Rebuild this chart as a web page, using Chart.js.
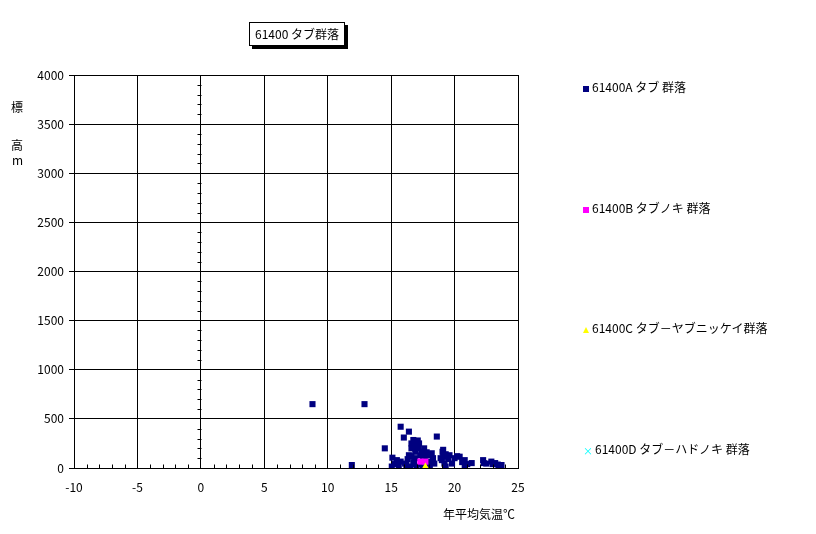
<!DOCTYPE html>
<html><head><meta charset="utf-8">
<script src="https://cdn.jsdelivr.net/npm/chart.js@4.4.0/dist/chart.umd.min.js"></script>
<style>
html,body{margin:0;padding:0;background:#fff;}
#wrap{position:relative;width:816px;height:534px;font-family:'Noto Sans CJK JP',sans-serif;font-size:12px;color:#000;}
canvas{position:absolute;left:0;top:0;}
.abs{position:absolute;white-space:nowrap;line-height:14px;}
#title{left:249px;top:22px;width:94px;height:22px;border:1px solid #000;box-shadow:3px 3px 0 #000;background:#fff;text-align:center;line-height:22px;}
.mk{display:inline-block;vertical-align:middle;margin-right:3px;}
</style></head>
<body><div id="wrap">
<canvas id="c" width="816" height="534"></canvas>
<div id="title" class="abs">61400 タブ群落</div>
<div class="abs" style="left:11px;top:100px;">標</div>
<div class="abs" style="left:11px;top:138px;">高</div>
<div class="abs" style="left:12px;top:153px;">m</div>
<div class="abs" style="left:443px;top:507px;">年平均気温℃</div>
<div id="legend"></div>
</div>
<script>
const xMin = -10, xMax = 25, xStep = 5;
const yMin = 0, yMax = 4000, yStep = 500;
const seriesNames = ["61400A タブ 群落", "61400B タブノキ 群落", "61400C タブ－ヤブニッケイ群落", "61400D タブ－ハドノキ 群落"];
const seriesA_x = [8.8, 12.9, 11.9, 14.5, 15.75, 16.4, 16.0, 16.75, 16.9, 17.15, 17.4, 16.9, 17.65, 16.9, 17.2, 17.0, 18.6, 15.1, 15.45, 15.75, 16.1, 15.05, 15.6, 16.5, 17.0, 16.2, 16.75, 18.05, 18.05, 18.0, 19.05, 19.1, 19.1, 19.2, 19.6, 19.8, 20.4, 20.8, 20.8, 21.35, 22.25, 22.5, 22.9, 23.2, 23.7, 23.5, 19.3, 18.9, 17.5, 16.6,
  16.4, 16.6, 17.3, 17.5, 17.9, 16.3, 15.3, 18.3, 17.8, 16.8, 17.4, 19.0, 19.5, 20.0, 20.6, 21.0, 22.3, 23.0, 23.4, 18.4, 17.1, 16.6, 17.6, 18.2, 19.3, 20.2];
const seriesA_y = [650, 650, 30, 200, 420, 370, 310, 285, 235, 200, 165, 165, 115, 100, 250, 200, 320, 105, 80, 65, 45, 15, 15, 15, 15, 30, 60, 65, 15, 130, 165, 185, 115, 45, 130, 45, 115, 80, 30, 50, 80, 45, 65, 50, 30, 20, 15, 100, 20, 120,
  130, 200, 130, 90, 40, 90, 40, 100, 160, 40, 40, 80, 90, 100, 60, 40, 50, 40, 35, 45, 280, 250, 200, 150, 140, 120];
const seriesB_x = [17.3, 17.7];
const seriesB_y = [65, 65];
const seriesC_x = [17.7];
const seriesC_y = [15];
const seriesD_x = [];
const seriesD_y = [];
const colors = ["#000080", "#FF00FF", "#FFFF00", "#00FFFF"];
const shapes = ["rect", "rect", "triangle", "crossRot"];

function pts(xs, ys){ return xs.map((x,i)=>({x:x, y:ys[i]})); }
const allX = [seriesA_x, seriesB_x, seriesC_x, seriesD_x];
const allY = [seriesA_y, seriesB_y, seriesC_y, seriesD_y];

const minorTicks = {
  id:'minorTicks',
  afterDraw(chart){
    const ctx = chart.ctx, xs = chart.scales.x, ys = chart.scales.y;
    ctx.save(); ctx.strokeStyle = '#000'; ctx.lineWidth = 1;
    const yb = Math.round(ys.getPixelForValue(0)) + 0.5;
    for (let v = xMin + 1; v < xMax; v++) {
      if (v % xStep === 0) continue;
      const px = Math.round(xs.getPixelForValue(v)) + 0.5;
      ctx.beginPath(); ctx.moveTo(px, yb); ctx.lineTo(px, yb - 4); ctx.stroke();
    }
    const x0 = Math.round(xs.getPixelForValue(0)) + 0.5;
    for (let v = yMin + 100; v < yMax; v += 100) {
      if (v % yStep === 0) continue;
      const py = Math.round(ys.getPixelForValue(v)) + 0.5;
      ctx.beginPath(); ctx.moveTo(x0, py); ctx.lineTo(x0 - 4, py); ctx.stroke();
    }
    ctx.restore();
  }
};

new Chart(document.getElementById('c'), {
  type: 'scatter',
  data: {
    datasets: seriesNames.map((n,i)=>({
      label: n,
      data: pts(allX[i], allY[i]),
      order: 4 - i,
      pointStyle: shapes[i],
      pointRadius: i === 2 ? 4 : 4.3,
      backgroundColor: colors[i],
      borderColor: colors[i],
      borderWidth: i === 3 ? 1 : 0,
      pointHoverRadius: 4.3
    }))
  },
  options: {
    responsive: false,
    animation: false,
    layout: { padding: { left: 0, right: 298, top: 75, bottom: 0 } },
    plugins: { legend: { display: false }, tooltip: { enabled: false }, title: { display: false } },
    scales: {
      x: {
        type: 'linear', min: xMin, max: xMax,
        ticks: { stepSize: xStep, color: '#000', padding: 12, font: { family: "'Noto Sans CJK JP'", size: 12 }, callback: v => String(v) },
        grid: { color: '#000', lineWidth: 1, drawTicks: false },
        border: { color: '#000', width: 1 },
        afterFit(s){ s.height = 66; }
      },
      y: {
        type: 'linear', min: yMin, max: yMax,
        ticks: { stepSize: yStep, color: '#000', padding: 5, font: { family: "'Noto Sans CJK JP'", size: 12 }, callback: v => String(v) },
        grid: { color: '#000', lineWidth: 1, drawTicks: true, tickLength: 5 },
        border: { color: '#000', width: 1 },
        afterFit(s){ s.width = 74; }
      }
    }
  },
  plugins: [minorTicks]
});

// legend (HTML)
const legendTops = [80, 201, 321, 442];
const lg = document.getElementById('legend');
seriesNames.forEach((n,i)=>{
  const d = document.createElement('div');
  d.className = 'abs';
  d.style.left = '583px';
  d.style.top = legendTops[i] + 'px';
  let mk;
  if (i < 2) mk = `<span class="mk" style="width:6px;height:6px;background:${colors[i]}"></span>`;
  else if (i === 2) mk = `<span class="mk" style="width:0;height:0;border-left:3px solid transparent;border-right:3px solid transparent;border-bottom:6px solid ${colors[i]}"></span>`;
  else mk = `<span class="mk" style="color:${colors[i]};font-size:10px;line-height:10px;margin-right:2px;">×</span>`;
  d.innerHTML = mk + n;
  lg.appendChild(d);
});
</script>
</body></html>
